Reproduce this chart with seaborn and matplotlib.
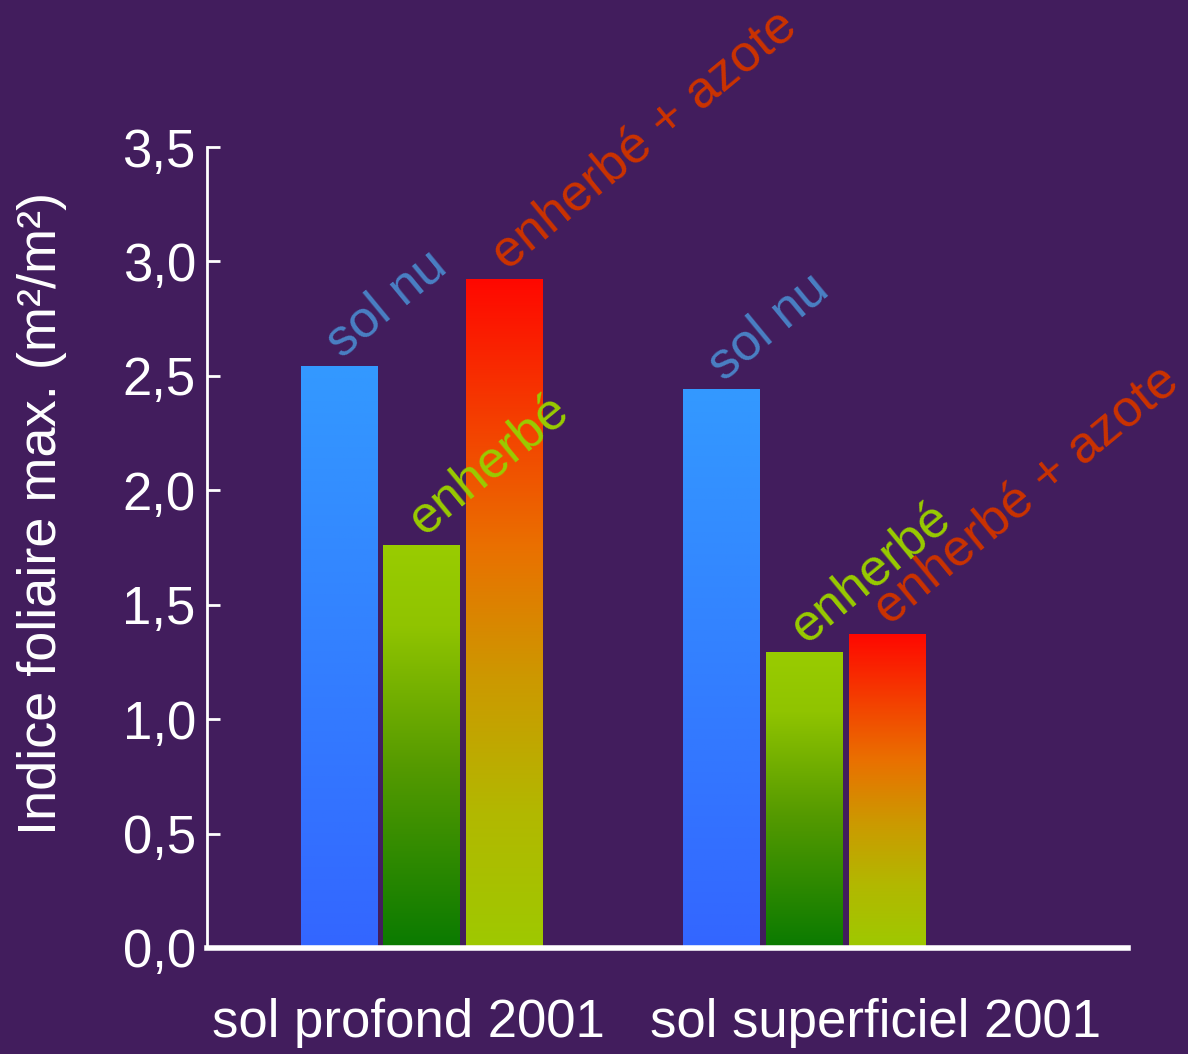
import numpy as np
import pandas as pd
import matplotlib
matplotlib.use("Agg")
import matplotlib.pyplot as plt
from matplotlib.colors import to_rgb
import seaborn as sns

# data
groups = ["sol profond 2001", "sol superficiel 2001"]
treatments = ["sol nu", "enherbé", "enherbé + azote"]
sol_nu = [2.54, 2.44]
enherbe = [1.76, 1.29]
enherbe_azote = [2.92, 1.37]
yticks = [0.0, 0.5, 1.0, 1.5, 2.0, 2.5, 3.0, 3.5]
ytick_labels = ["0,0", "0,5", "1,0", "1,5", "2,0", "2,5", "3,0", "3,5"]

# styling
bg = "#421d5d"
label_colors = {"sol nu": "#4a80c4", "enherbé": "#99cc00", "enherbé + azote": "#cc3300"}
# gradient stops (position from top, colour) per treatment
gradients = {
    "sol nu": [(0, "#3399ff"), (1, "#3366ff")],
    "enherbé": [(0, "#99cc00"), (0.2, "#90c400"), (0.55, "#559a00"), (1, "#0a7a00")],
    "enherbé + azote": [(0, "#ff0800"), (0.4, "#ea7000"), (0.6, "#cc9900"),
                        (0.8, "#b2b800"), (1, "#9ec900")],
}

df = pd.DataFrame({
    "groupe": groups * 3,
    "traitement": [t for t in treatments for _ in groups],
    "valeur": sol_nu + enherbe + enherbe_azote,
})

sns.set_style("white")
plt.rcParams["font.family"] = ["Liberation Sans", "DejaVu Sans"]

fig = plt.figure(figsize=(11.88, 10.54), dpi=100, facecolor=bg)
ax = fig.add_axes([0.1742, 0.1006, 0.7753, 0.7599])
ax.set_facecolor(bg)

sns.barplot(data=df, x="groupe", y="valeur", hue="traitement", order=groups,
            hue_order=treatments, width=0.65, gap=0.08, legend=False, ax=ax,
            palette=[g[0][1] for g in gradients.values()])


def gradient_img(stops, n=256):
    pos = np.array([p for p, _ in stops])
    cols = np.array([to_rgb(c) for _, c in stops])
    t = np.linspace(0, 1, n)
    img = np.stack([np.interp(t, pos, cols[:, k]) for k in range(3)], axis=-1)
    return img[:, None, :]


for trt, cont in zip(treatments, ax.containers):
    img = gradient_img(gradients[trt])
    for bar in cont:
        x0, w, h = bar.get_x(), bar.get_width(), bar.get_height()
        bar.set_visible(False)
        ax.imshow(img, extent=[x0, x0 + w, 0, h], origin="upper", aspect="auto", zorder=2)
        ax.annotate(trt, xy=(x0 + w / 2, h), xytext=(2, 6), textcoords="offset points",
                    rotation=39.5, rotation_mode="anchor", ha="left", va="baseline",
                    color=label_colors[trt], fontsize=37.5, annotation_clip=False)

ax.set_xlim(-0.561, 1.847)
ax.set_ylim(0, 3.5)
ax.set_yticks(yticks, labels=ytick_labels)
ax.set_xticks([-0.033, 1.186], labels=groups)

for s in ["top", "right"]:
    ax.spines[s].set_visible(False)
ax.spines["left"].set_color("white")
ax.spines["left"].set_linewidth(2)
ax.spines["bottom"].set_color("white")
ax.spines["bottom"].set_linewidth(4)
ax.spines["bottom"].set_zorder(3)

ax.tick_params(axis="y", direction="in", length=9, width=2, color="white",
               labelcolor="white", labelsize=38, pad=8, left=True)
ax.tick_params(axis="x", length=0, labelcolor="white", labelsize=38, pad=36)
ax.set_xlabel("")
ax.set_ylabel("Indice foliaire max. (m²/m²)", color="white", fontsize=39)
ax.yaxis.set_label_coords(-0.152, 0.543)

fig.savefig("out.png", dpi=100, facecolor=bg)
